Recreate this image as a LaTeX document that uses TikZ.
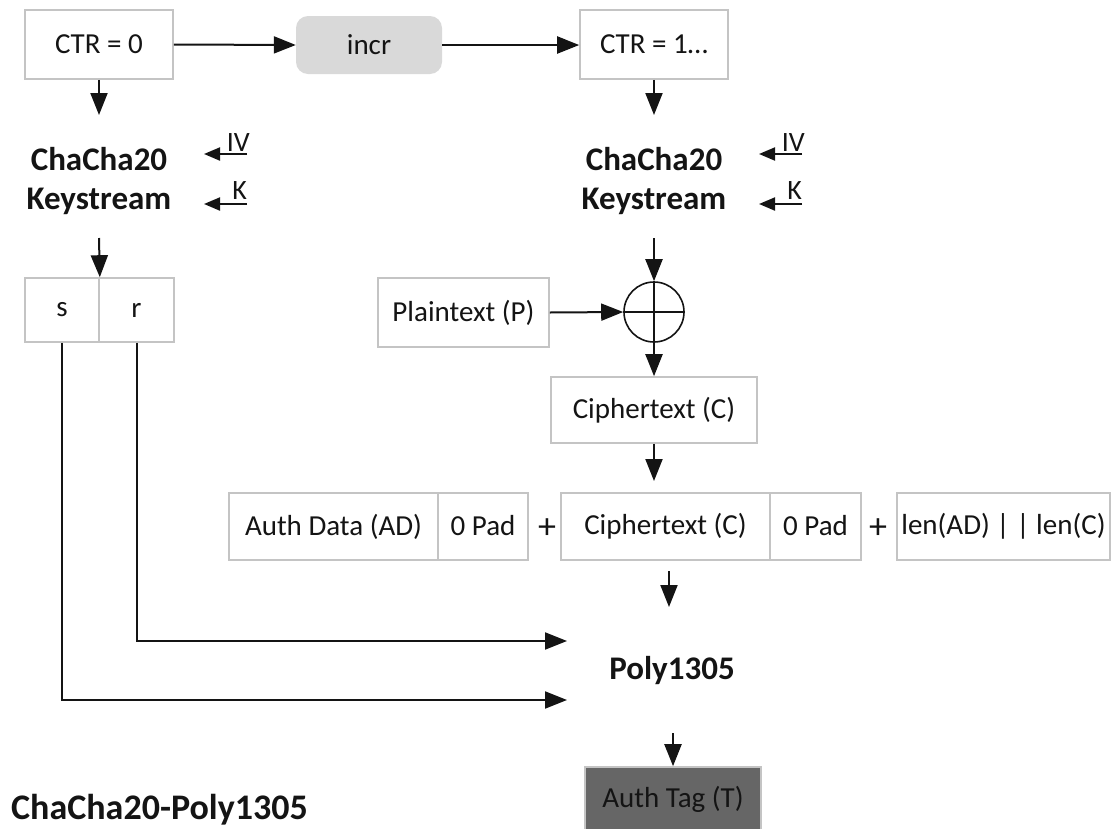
\documentclass[tikz,border=0pt]{standalone}
\usepackage{fontspec}
\setmainfont{Carlito}
\usetikzlibrary{arrows.meta}

\definecolor{boxline}{HTML}{C4C4C4}
\definecolor{incrfill}{HTML}{D9D9D9}
\definecolor{tagfill}{HTML}{666666}
\definecolor{ink}{HTML}{141414}

\newcommand{\txtreg}{\fontsize{29}{35}\selectfont}
\newcommand{\txtbold}{\fontsize{33}{39}\selectfont\bfseries}
\newcommand{\txtlab}{\fontsize{28}{32}\selectfont}
\newcommand{\txtplus}{\fontsize{36}{40}\selectfont}
\newcommand{\txttitle}{\fontsize{36}{44}\selectfont\bfseries}

\tikzset{
  box/.style={draw=boxline, line width=1.6pt, fill=white, inner sep=0pt,
              font=\txtreg, text=ink},
  incrbox/.style={fill=incrfill, rounded corners=12pt, inner sep=0pt,
                  minimum width=146pt, minimum height=58pt, font=\txtreg, text=ink},
  tagbox/.style={draw=boxline, line width=1.6pt, fill=tagfill, inner sep=0pt,
                 minimum width=176pt, minimum height=64pt, font=\txtreg, text=ink},
  kstext/.style={font=\txtbold, align=center, text=ink, inner sep=0pt},
  lab/.style={font=\txtlab, text=ink, inner sep=0pt},
  plus/.style={font=\txtplus, text=ink, inner sep=0pt},
  arr/.style={draw=ink, line width=2pt, -{Triangle[length=22pt,width=17pt]}},
  arrs/.style={draw=ink, line width=2pt, -{Triangle[length=16pt,width=13pt]}},
  xorc/.style={circle, draw=ink, line width=1.6pt, minimum size=60pt, inner sep=0pt},
}

\begin{document}
\begin{tikzpicture}[x=1pt, y=-1pt]
  \useasboundingbox (0,0) rectangle (1112,828);

  % counter blocks
  \node[box, minimum width=148pt, minimum height=69pt] (ctr0) at (99,44.5) {CTR = 0};
  \node[incrbox] (incr) at (369,45) {incr};
  \node[box, minimum width=148pt, minimum height=69pt] (ctr1) at (654,44.5) {CTR = 1…};
  \draw[arr] (ctr0.east) -- (incr.west);
  \draw[arr] (incr.east) -- (ctr1.west |- incr.east);

  % left keystream
  \coordinate (ks0in) at (99,115);
  \draw[arr] (ctr0.south) -- (ks0in);
  \node[kstext] (ks0) at (99,181) {ChaCha20\\Keystream};
  \coordinate (iv0a) at (247,154); \coordinate (iv0b) at (204,154);
  \draw[arrs] (iv0a) -- (iv0b);
  \node[lab, anchor=base east] (iv0) at (250,151) {IV};
  \coordinate (k0a) at (247,204); \coordinate (k0b) at (204,204);
  \draw[arrs] (k0a) -- (k0b);
  \node[lab, anchor=base east] (k0) at (247,199) {K};

  % right keystream
  \coordinate (ks1in) at (654,115);
  \draw[arr] (ctr1.south) -- (ks1in);
  \node[kstext] (ks1) at (654,181) {ChaCha20\\Keystream};
  \coordinate (iv1a) at (802,154); \coordinate (iv1b) at (759,154);
  \draw[arrs] (iv1a) -- (iv1b);
  \node[lab, anchor=base east] (iv1) at (805,151) {IV};
  \coordinate (k1a) at (802,204); \coordinate (k1b) at (759,204);
  \draw[arrs] (k1a) -- (k1b);
  \node[lab, anchor=base east] (k1) at (802,199) {K};

  % s | r split
  \node[box, minimum width=74pt, minimum height=64pt] (s) at (62,310) {s};
  \node[box, minimum width=75pt, minimum height=64pt] (r) at (136.5,310) {r};
  \coordinate (ks0out) at (99,238);
  \draw[arr] (ks0out) -- (s.north east);

  % encryption
  \node[box, minimum width=171pt, minimum height=69pt] (pt) at (463.5,312.5) {Plaintext (P)};
  \node[xorc] (xor) at (654,312) {};
  \draw[draw=ink, line width=1.6pt] (xor.north) -- (xor.south) (xor.west) -- (xor.east);
  \coordinate (ks1out) at (654,238);
  \draw[arr] (ks1out) -- (xor.north);
  \draw[arr] (pt.east) -- (xor.west);
  \node[box, minimum width=206pt, minimum height=66pt] (ct) at (654,410) {Ciphertext (C)};
  \draw[arr] (xor.south) -- (ct.north);
  \coordinate (rowin) at (654,481);
  \draw[arr] (ct.south) -- (rowin);

  % MAC input row
  \node[box, minimum width=209pt, minimum height=67pt] (ad) at (333.5,526.5) {Auth Data (AD)};
  \node[box, minimum width=90pt, minimum height=67pt] (pad1) at (483,526.5) {\raisebox{3pt}{0 Pad}};
  \node[plus] (plus1) at (547,529) {+};
  \node[box, minimum width=209pt, minimum height=67pt] (ct2) at (665.5,526.5) {Ciphertext (C)};
  \node[box, minimum width=91pt, minimum height=67pt] (pad2) at (815.5,526.5) {\raisebox{3pt}{0 Pad}};
  \node[plus] (plus2) at (878,529) {+};
  \node[box, minimum width=213pt, minimum height=67pt] (len) at (1003.5,526.5) {len(AD) | | len(C)};

  % Poly1305
  \coordinate (rowout) at (669,571); \coordinate (polyin) at (669,607);
  \draw[arr] (rowout) -- (polyin);
  \node[kstext] (poly) at (672,671) {Poly1305};
  \coordinate (polyR) at (567,641); \coordinate (polyS) at (567,700);
  \draw[arr] (r.south) |- (polyR);
  \draw[arr] (s.south) |- (polyS);

  % tag
  \node[tagbox] (tag) at (673,799) {Auth Tag (T)};
  \coordinate (polyout) at (673,733);
  \draw[arr] (polyout) -- (tag.north);

  % title
  \node[font=\txttitle, text=ink, anchor=base west, inner sep=0pt] (title) at (11,819) {ChaCha20-Poly1305};
\end{tikzpicture}
\end{document}
